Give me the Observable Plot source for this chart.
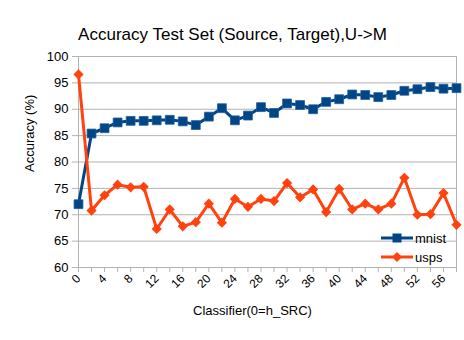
<!DOCTYPE html>
<html><head><meta charset="utf-8">
<script src="https://cdn.jsdelivr.net/npm/d3@7"></script>
<script src="https://cdn.jsdelivr.net/npm/@observablehq/plot@0.6"></script>
<style>
body{margin:0;background:#fff;font-family:"Liberation Sans",Arial,sans-serif;}
#wrap{position:relative;width:464px;height:340px;}
.leg{position:absolute;left:381px;font:13px "Liberation Sans",Arial,sans-serif;display:flex;align-items:center;height:16px;}
.leg svg{margin-right:2px;}
</style>
</head><body>
<div id="wrap"></div>
<script>
const title = "Accuracy Test Set (Source, Target),U->M";
const xLabel = "Classifier(0=h_SRC)";
const yLabel = "Accuracy (%)";
const seriesNames = ["mnist", "usps"];
const colors = ["#004586", "#ff420e"];
const classifiers = [0,2,4,6,8,10,12,14,16,18,20,22,24,26,28,30,32,34,36,38,40,42,44,46,48,50,52,54,56,58];
const xTickLabels = [0,4,8,12,16,20,24,28,32,36,40,44,48,52,56];
const yTicks = [60,65,70,75,80,85,90,95,100];
const mnist = [72.0,85.4,86.4,87.5,87.8,87.8,87.9,88.0,87.7,87.0,88.6,90.2,87.9,88.8,90.4,89.3,91.1,90.8,90.0,91.4,91.9,92.8,92.7,92.3,92.7,93.5,93.8,94.2,93.9,94.0];
const usps = [96.6,70.8,73.7,75.7,75.2,75.3,67.3,71.0,67.8,68.6,72.1,68.5,73.0,71.5,73.0,72.6,76.0,73.3,74.8,70.5,74.9,71.0,72.1,71.0,72.1,77.0,70.0,70.1,74.1,68.1];

const dM = classifiers.map((x,i)=>({x, y:mnist[i]}));
const dU = classifiers.map((x,i)=>({x, y:usps[i]}));
const grid = "#b3b3b3";

const chart = Plot.plot({
  width: 464, height: 340,
  marginTop: 56, marginLeft: 78, marginRight: 8, marginBottom: 73,
  style: {fontFamily: '"Liberation Sans", Arial, sans-serif', fontSize: "13px", color: "#000", background: "#fff"},
  x: {domain: [0,58]},
  y: {domain: [60,100]},
  marks: [
    Plot.gridY(yTicks, {stroke: grid, strokeOpacity: 1}),
    Plot.frame({stroke: grid}),
    Plot.axisY(yTicks, {tickSize: 6, tickPadding: 4, stroke: grid, label: null, fontSize: 13}),
    Plot.axisX(classifiers, {tickSize: 5, stroke: grid, text: null, label: null}),
    Plot.axisX(xTickLabels, {tickSize: 0, tickPadding: 9, tickRotate: -45, label: null, fontSize: 12}),
    Plot.line(dM, {x:"x", y:"y", stroke: colors[0], strokeWidth: 3}),
    Plot.dot(dM, {x:"x", y:"y", symbol: "square", r: 5, fill: colors[0], stroke: "#1f5f9e", strokeWidth: 0.8}),
    Plot.line(dU, {x:"x", y:"y", stroke: colors[1], strokeWidth: 3}),
    Plot.dot(dU, {x:"x", y:"y", symbol: "diamond2", r: 4.6, fill: colors[1], stroke: "none"}),
    Plot.text([title], {frameAnchor: "top", dx: -35, dy: -29, fontSize: 17, fill: "#000"}),
    Plot.text([xLabel], {frameAnchor: "bottom", dx: -15, dy: 47, fontSize: 13, fill: "#000"}),
    Plot.text([yLabel], {frameAnchor: "left", dx: -49, dy: 10, rotate: -90, fontSize: 13, fill: "#000"})
  ]
});
const wrap = document.getElementById("wrap");
wrap.appendChild(chart);

const legTops = [230, 249];
seriesNames.forEach((name, i) => {
  const div = document.createElement("div");
  div.className = "leg";
  div.style.top = legTops[i] + "px";
  const marker = i === 0
    ? `<rect x="11.5" y="3.5" width="9" height="9" fill="${colors[0]}"/>`
    : `<path d="M16,3 L21,8 L16,13 L11,8 Z" fill="${colors[1]}"/>`;
  div.innerHTML = `<svg width="32" height="16"><line x1="0" y1="8" x2="32" y2="8" stroke="${colors[i]}" stroke-width="3"/>${marker}</svg><span>${name}</span>`;
  wrap.appendChild(div);
});
</script>
</body></html>
